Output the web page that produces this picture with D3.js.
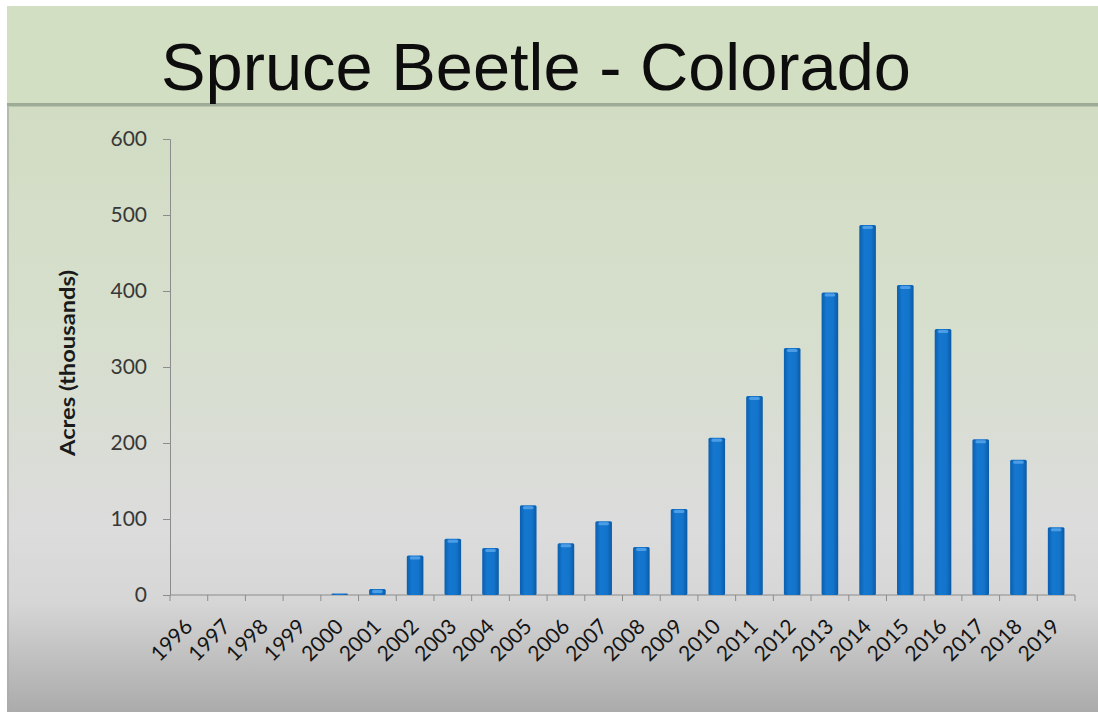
<!DOCTYPE html>
<html>
<head>
<meta charset="utf-8">
<script src="https://cdn.jsdelivr.net/npm/d3@7"></script>
<style>
  html, body { margin: 0; padding: 0; background: #ffffff; }
  svg { display: block; }
</style>
</head>
<body>
<svg id="chart" width="1098" height="712"></svg>
<script>
// Spruce beetle affected area in Colorado, thousands of acres per year
const years = ["1996","1997","1998","1999","2000","2001","2002","2003","2004","2005","2006","2007",
               "2008","2009","2010","2011","2012","2013","2014","2015","2016","2017","2018","2019"];
const acres = [0, 0, 0, 0, 2, 8, 52, 74, 62, 118, 68, 97, 63, 113, 207, 262, 325, 398, 487, 408, 350, 205, 178, 89];
const yTicks = [0, 100, 200, 300, 400, 500, 600];
const titleText = "Spruce Beetle - Colorado";
const yLabel = "Acres (thousands)";

const W = 1098, H = 712;
const svg = d3.select("#chart");
const defs = svg.append("defs");

// Slide background: green header, green-to-grey body
const bodyGrad = defs.append("linearGradient").attr("id", "bodyGrad")
  .attr("x1", 0).attr("y1", 0).attr("x2", 0).attr("y2", 1);
bodyGrad.append("stop").attr("offset", "0%").attr("stop-color", "#d1dcc3");
bodyGrad.append("stop").attr("offset", "35%").attr("stop-color", "#d6dfcc");
bodyGrad.append("stop").attr("offset", "70%").attr("stop-color", "#dcdcdc");
bodyGrad.append("stop").attr("offset", "82%").attr("stop-color", "#d6d6d6");
bodyGrad.append("stop").attr("offset", "100%").attr("stop-color", "#ababab");

const barGrad = defs.append("linearGradient").attr("id", "barGrad")
  .attr("x1", 0).attr("y1", 0).attr("x2", 1).attr("y2", 0);
barGrad.append("stop").attr("offset", "0%").attr("stop-color", "#0a5fae");
barGrad.append("stop").attr("offset", "30%").attr("stop-color", "#1577cf");
barGrad.append("stop").attr("offset", "70%").attr("stop-color", "#1374cb");
barGrad.append("stop").attr("offset", "100%").attr("stop-color", "#0b5aa6");

const slideX = 7, headerTop = 6, headerBottom = 103;
svg.append("rect").attr("x", slideX).attr("y", headerTop)
  .attr("width", W - slideX).attr("height", headerBottom - headerTop).attr("fill", "#d3dfc3");
svg.append("rect").attr("x", slideX).attr("y", headerBottom)
  .attr("width", W - slideX).attr("height", H - headerBottom).attr("fill", "url(#bodyGrad)");
// header separator line
svg.append("rect").attr("x", slideX).attr("y", headerBottom)
  .attr("width", W - slideX).attr("height", 3).attr("fill", "#9eab96");
svg.append("rect").attr("x", slideX).attr("y", headerBottom + 3)
  .attr("width", W - slideX).attr("height", 1).attr("fill", "#b9c4b0");
// left edge shading
svg.append("rect").attr("x", slideX).attr("y", headerBottom + 4)
  .attr("width", 2).attr("height", H - headerBottom - 4).attr("fill", "#a9ada5").attr("opacity", 0.7);

// Title
svg.append("text")
  .attr("x", 536).attr("y", 90)
  .attr("text-anchor", "middle")
  .attr("font-family", "Liberation Sans, Arial, sans-serif")
  .attr("font-size", 66)
  .attr("textLength", 750)
  .attr("lengthAdjust", "spacingAndGlyphs")
  .attr("fill", "#0d0d0d")
  .text(titleText);

// Plot geometry
const plotLeft = 170, plotRight = 1075, plotTop = 139, plotBottom = 595;

const x = d3.scaleBand().domain(years).range([plotLeft, plotRight]).paddingInner(0.56).paddingOuter(0.28);
const xTicks = d3.scaleBand().domain(years).range([plotLeft, plotRight]);
const y = d3.scaleLinear().domain([0, 600]).range([plotBottom, plotTop]);

// Y axis
const yAxis = svg.append("g").attr("transform", `translate(${plotLeft},0)`)
  .call(d3.axisLeft(y).tickValues(yTicks).tickSize(7).tickPadding(16));
yAxis.select(".domain").attr("stroke", "#8c8c8c");
yAxis.selectAll(".tick line").attr("stroke", "#8c8c8c");
yAxis.selectAll("text")
  .attr("font-family", "Lato, Open Sans, sans-serif")
  .attr("font-size", 21)
  .attr("fill", "#383838");

// X axis: ticks at category boundaries
const xg = svg.append("g");
xg.append("line").attr("x1", plotLeft).attr("x2", plotRight).attr("y1", plotBottom).attr("y2", plotBottom)
  .attr("stroke", "#8c8c8c");
xg.selectAll("line.tk").data(years.concat(["end"])).join("line")
  .attr("class", "tk")
  .attr("x1", (d, i) => i < years.length ? xTicks(d) : plotRight)
  .attr("x2", (d, i) => i < years.length ? xTicks(d) : plotRight)
  .attr("y1", plotBottom).attr("y2", plotBottom + 6)
  .attr("stroke", "#8c8c8c");

xg.selectAll("text.xl").data(years).join("text")
  .attr("class", "xl")
  .attr("transform", d => `translate(${xTicks(d) + xTicks.bandwidth() / 2 + 5},${plotBottom + 33}) rotate(-45)`)
  .attr("text-anchor", "end")
  .attr("font-family", "Lato, Open Sans, sans-serif")
  .attr("font-size", 21)
  .attr("fill", "#141414")
  .text(d => d);

// Y axis title
svg.append("text")
  .attr("transform", `translate(75,${(plotTop + plotBottom) / 2 - 4}) rotate(-90)`)
  .attr("text-anchor", "middle")
  .attr("font-family", "Lato, Open Sans, sans-serif")
  .attr("font-weight", "bold")
  .attr("font-size", 20)
  .attr("textLength", 186)
  .attr("lengthAdjust", "spacingAndGlyphs")
  .attr("fill", "#1a1a1a")
  .text(yLabel);

// Bars
const data = years.map((yr, i) => ({ yr, v: acres[i] }));
const bars = svg.append("g");
bars.selectAll("rect.bar").data(data.filter(d => d.v > 0)).join("rect")
  .attr("class", "bar")
  .attr("x", d => x(d.yr))
  .attr("y", d => y(d.v))
  .attr("width", x.bandwidth())
  .attr("height", d => plotBottom - y(d.v))
  .attr("rx", 1.5)
  .attr("fill", "url(#barGrad)");
// light cap highlight on each bar top
bars.selectAll("rect.cap").data(data.filter(d => d.v > 4)).join("rect")
  .attr("class", "cap")
  .attr("x", d => x(d.yr) + 3)
  .attr("y", d => y(d.v) + 1)
  .attr("width", x.bandwidth() - 6)
  .attr("height", 3)
  .attr("rx", 1.5)
  .attr("fill", "#5aa8ec")
  .attr("opacity", 0.8);
</script>
</body>
</html>
